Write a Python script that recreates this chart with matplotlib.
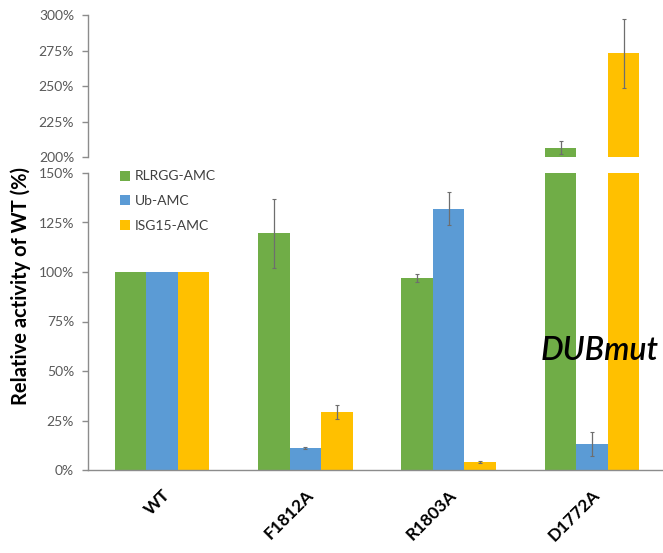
import matplotlib
matplotlib.use("Agg")
import matplotlib.pyplot as plt
from matplotlib.patches import Patch
import numpy as np

plt.rcParams['font.family'] = ['Lato', 'DejaVu Sans']

categories = ["WT", "F1812A", "R1803A", "D1772A"]
series = ["RLRGG-AMC", "Ub-AMC", "ISG15-AMC"]
colors = ["#70AD47", "#5B9BD5", "#FFC000"]

rlrgg = [100, 119.5, 97, 206.5]
rlrgg_err = [0, 17.5, 2, 4.5]
ub = [100, 11, 132, 13]
ub_err = [0, 0.5, 8.5, 6]
isg15 = [100, 29.5, 4, 273]
isg15_err = [0, 3.5, 0.3, 24.5]

values = [rlrgg, ub, isg15]
errors = [rlrgg_err, ub_err, isg15_err]

low_ticks = [0, 25, 50, 75, 100, 125, 150]
high_ticks = [200, 225, 250, 275, 300]

W, H = 663, 553
fig = plt.figure(figsize=(W / 100, H / 100), dpi=100)

def ax_rect(x0, y0, x1, y1):
    return [x0 / W, 1 - y1 / H, (x1 - x0) / W, (y1 - y0) / H]

ax_lo = fig.add_axes(ax_rect(88, 173, 663, 470))
ax_hi = fig.add_axes(ax_rect(88, 15, 663, 157))

x = np.arange(len(categories))
bw = 0.22
offsets = [-bw, 0, bw]
spine_col = "#8c8c8c"
tick_col = "#595959"

for ax, lo, hi in [(ax_lo, 0, 150), (ax_hi, 200, 300)]:
    for vals, errs, off, col in zip(values, errors, offsets, colors):
        ax.bar(x + off, vals, width=bw, color=col, zorder=2)
        for xi, v, e in zip(x + off, vals, errs):
            if e > 0 and lo <= v <= hi:
                ax.errorbar(xi, v, yerr=e, fmt="none", ecolor="#6e6e6e",
                            elinewidth=0.9, capsize=1.5, capthick=0.8, zorder=3)
    ax.set_ylim(lo, hi)
    ax.set_xlim(-0.516, 3.495)
    for s in ["top", "right"]:
        ax.spines[s].set_visible(False)
    ax.spines["left"].set_color(spine_col)
    ax.spines["left"].set_linewidth(1.0)
    ax.tick_params(axis="y", colors=spine_col, length=4, width=1.0,
                   labelcolor=tick_col, labelsize=10, pad=6)

ax_lo.set_yticks(low_ticks)
ax_lo.set_yticklabels([f"{t}%" for t in low_ticks])
ax_hi.set_yticks(high_ticks)
ax_hi.set_yticklabels([f"{t}%" for t in high_ticks])

ax_hi.spines["bottom"].set_visible(False)
ax_hi.set_xticks([])

ax_lo.spines["bottom"].set_color(spine_col)
ax_lo.spines["bottom"].set_linewidth(1.0)
ax_lo.set_xticks(x)
ax_lo.set_xticklabels(categories, rotation=45, ha="right",
                      rotation_mode="anchor", fontweight="bold", fontsize=12.5)
ax_lo.tick_params(axis="x", length=0, pad=12)

fig.text(21 / W, 1 - 286 / H, "Relative activity of WT (%)", rotation=90,
         ha="center", va="center", fontsize=14.5, fontweight="bold")

handles = [Patch(facecolor=c, edgecolor="none") for c in colors]
fig.legend(handles, series, loc="upper left",
           bbox_to_anchor=(107 / W, 1 - 158 / H), frameon=False,
           fontsize=10, handlelength=0.75, handleheight=0.75,
           handletextpad=0.35, labelspacing=0.9, labelcolor="#404040")

fig.text(659 / W, 1 - 351 / H, "DUBmut", fontsize=23, fontstyle="italic",
         fontweight="semibold", ha="right", va="center", color="black", zorder=5)

fig.savefig("out.png", dpi=100)
